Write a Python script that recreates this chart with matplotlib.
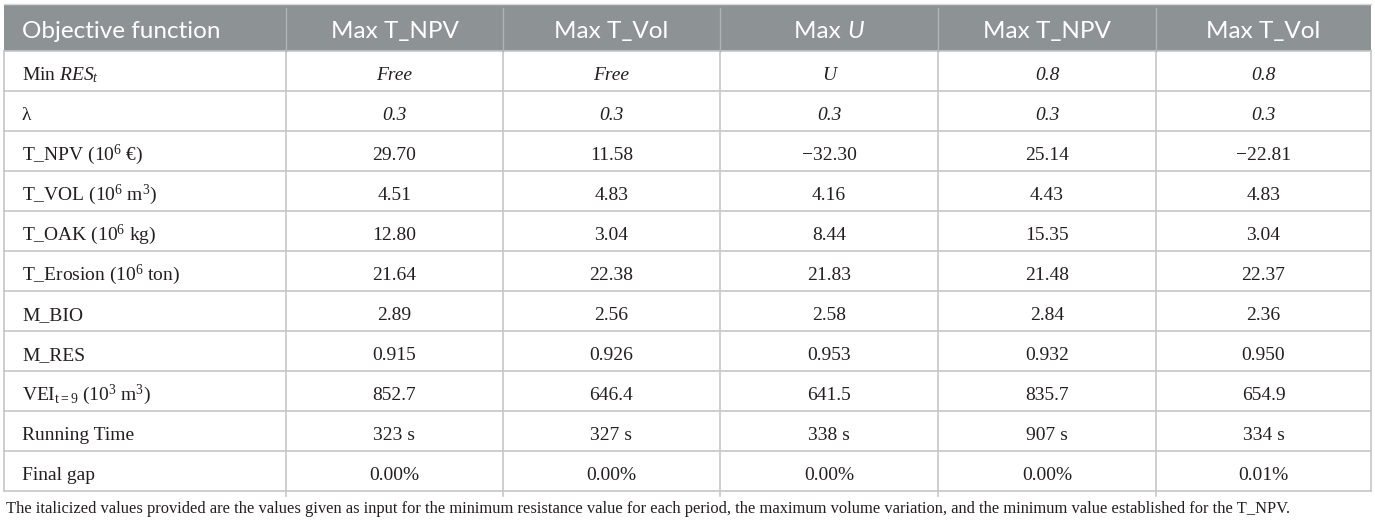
import matplotlib
matplotlib.use("Agg")
import matplotlib.pyplot as plt
from matplotlib.patches import Rectangle

plt.rcParams['mathtext.fontset'] = 'custom'
plt.rcParams['mathtext.rm'] = 'Liberation Serif'
plt.rcParams['mathtext.it'] = 'Liberation Serif:italic'

# table content
headers = ["Objective function", "Max T_NPV", "Max T_Vol", "Max U", "Max T_NPV", "Max T_Vol"]
row_labels = [
    "Min $\\mathit{RES}_t$",
    "λ",
    "T_NPV (10$^6$ €)",
    "T_VOL (10$^6$ m$^3$)",
    "T_OAK (10$^6$ kg)",
    "T_Erosion (10$^6$ ton)",
    "M_BIO",
    "M_RES",
    "VEI$_{\\mathrm{t=9}}$ (10$^3$ m$^3$)",
    "Running Time",
    "Final gap",
]
col1 = ["Free", "0.3", "29.70", "4.51", "12.80", "21.64", "2.89", "0.915", "852.7", "323 s", "0.00%"]
col2 = ["Free", "0.3", "11.58", "4.83", "3.04", "22.38", "2.56", "0.926", "646.4", "327 s", "0.00%"]
col3 = ["U", "0.3", "\u221232.30", "4.16", "8.44", "21.83", "2.58", "0.953", "641.5", "338 s", "0.00%"]
col4 = ["0.8", "0.3", "25.14", "4.43", "15.35", "21.48", "2.84", "0.932", "835.7", "907 s", "0.00%"]
col5 = ["0.8", "0.3", "\u221222.81", "4.83", "3.04", "22.37", "2.36", "0.950", "654.9", "334 s", "0.01%"]
italic_rows = [0, 1]
footnote = ("The italicized values provided are the values given as input for the minimum resistance "
            "value for each period, the maximum volume variation, and the minimum value established "
            "for the T_NPV.")

# layout in pixels
col_edges = [4, 286, 503, 720, 938, 1156, 1371]
top, head_h, row_h = 4, 46.5, 40
head_color = "#8d9295"
line_color = "#c6c6c6"
text_color = "#231f20"
sans = "Lato"
serif = "Liberation Serif"
head_fs, body_fs, note_fs = 17.5, 14, 11.9

fig = plt.figure(figsize=(13.75, 5.25), dpi=100)
ax = fig.add_axes([0, 0, 1, 1])
ax.set_xlim(0, 1375)
ax.set_ylim(525, 0)
ax.axis("off")

n_rows = len(row_labels)
bottom = top + head_h + n_rows * row_h

ax.add_patch(Rectangle((col_edges[0], top), col_edges[-1] - col_edges[0], head_h,
                       facecolor=head_color, edgecolor="none"))

for i in range(n_rows + 1):
    y = top + head_h + i * row_h
    ax.plot([col_edges[0], col_edges[-1]], [y, y], color=line_color, lw=1.2)
ax.plot([col_edges[0], col_edges[-1]], [top, top], color="#d8d8d8", lw=1.0)
for j, x in enumerate(col_edges):
    y1 = bottom if j in (0, len(col_edges) - 1) else bottom + 5
    ax.plot([x, x], [top + head_h, y1], color=line_color, lw=1.2)
    if 0 < j < len(col_edges) - 1:
        ax.plot([x, x], [top + 4, top + head_h], color="#b0b3b5", lw=1.0)

# header text
hy = top + 34
fig.canvas.draw()
renderer = fig.canvas.get_renderer()
for j, h in enumerate(headers):
    if j == 0:
        ax.text(col_edges[0] + 18, hy, h, color="white", fontsize=head_fs, family=sans,
                ha="left", va="baseline")
        continue
    cx = (col_edges[j] + col_edges[j + 1]) / 2
    if h.endswith(" U"):
        t1 = ax.text(cx, hy, "Max ", color="white", fontsize=head_fs, family=sans,
                     ha="left", va="baseline")
        t2 = ax.text(cx, hy, "U", color="white", fontsize=head_fs, family=sans,
                     style="italic", ha="left", va="baseline")
        inv = ax.transData.inverted()
        w1 = t1.get_window_extent(renderer)
        w2 = t2.get_window_extent(renderer)
        w1d = inv.transform([[w1.x0, 0], [w1.x1, 0]])
        w2d = inv.transform([[w2.x0, 0], [w2.x1, 0]])
        a = w1d[1, 0] - w1d[0, 0]
        b = w2d[1, 0] - w2d[0, 0]
        start = cx - (a + b) / 2
        t1.set_x(start)
        t2.set_x(start + a)
    else:
        ax.text(cx, hy, h, color="white", fontsize=head_fs, family=sans,
                ha="center", va="baseline")

# body
cols = [col1, col2, col3, col4, col5]
for i, lab in enumerate(row_labels):
    by = top + head_h + i * row_h + 29.5
    ax.text(col_edges[0] + 18, by, lab, fontsize=body_fs, family=serif, color=text_color,
            ha="left", va="baseline")
    for j, col in enumerate(cols):
        cx = (col_edges[j + 1] + col_edges[j + 2]) / 2
        ax.text(cx, by, col[i], fontsize=body_fs, family=serif, color=text_color,
                style="italic" if i in italic_rows else "normal",
                ha="center", va="baseline")

ax.text(col_edges[0] + 2, bottom + 22.5, footnote, fontsize=note_fs, family=serif,
        color=text_color, ha="left", va="baseline")

fig.savefig("out.png", dpi=100)
